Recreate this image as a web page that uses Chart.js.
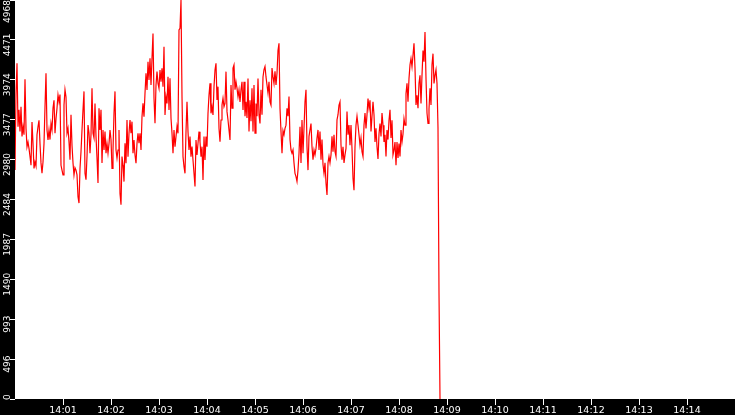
<!DOCTYPE html>
<html>
<head>
<meta charset="utf-8">
<script src="https://cdn.jsdelivr.net/npm/chart.js@4.4.1/dist/chart.umd.min.js"></script>
<style>
  html, body { margin: 0; padding: 0; background: #000; }
  #chart { display: block; }
</style>
</head>
<body>
<canvas id="chart" width="735" height="415"></canvas>
<script>
// x axis: 14:00 .. 14:15, one reading every 1.25 s
const xTickLabels = ['14:00', '14:01', '14:02', '14:03', '14:04', '14:05', '14:06', '14:07',
                     '14:08', '14:09', '14:10', '14:11', '14:12', '14:13', '14:14', '14:15'];
const stepSeconds = 1.25;

// y axis: 0 .. 4968 in ten steps
const yMax = 4968;
const yTickLabels = ['0', '496', '993', '1490', '1987', '2484', '2980', '3477', '3974', '4471', '4968'];

// readings
const readings = [
    2850, 3800, 4180, 3390, 3600, 3330, 3640, 3270, 3390, 3290,
    3980, 3370, 3140, 3200, 3120, 3020, 2910, 3450, 3180, 2870,
    2950, 2900, 3290, 3390, 3470, 3180, 2940, 2810, 2950, 3180,
    3640, 4055, 3350, 3225, 3350, 3230, 3430, 3350, 3620, 3720,
    3310, 3490, 3620, 3785, 3700, 3790, 2910, 2850, 2790, 3660,
    3850, 3760, 3310, 3370, 3200, 2980, 3540, 3160, 2940, 2790,
    2880, 2850, 2790, 2520, 2440, 2870, 3080, 3350, 3600, 3830,
    2810, 2730, 3020, 3410, 3310, 3060, 3290, 3870, 3310, 3250,
    3680, 3270, 3000, 2690, 3620, 3350, 3600, 2940, 3350, 3100,
    3330, 3060, 3180, 3060, 3180, 3350, 3230, 2870, 3100, 3560,
    3830, 3100, 3000, 3100, 3350, 2560, 2420, 3020, 2910,
    2707, 3184, 2935, 3474, 3018, 3308, 3474, 3308, 3453, 3059,
    3225, 3038, 2935, 3184, 3308, 3184, 3308, 3101, 3516, 3681,
    3516, 3806, 4055, 3847, 4200, 3972, 4241, 3910, 4241, 4552,
    3744, 3433, 3910, 4076, 3930, 3868, 4096, 3951, 4117, 3889,
    4387, 3536, 3764, 3681, 4013, 3598, 3993, 3495, 3308, 3059,
    3350, 3142, 3267, 3391, 3308, 4594, 4615, 4968, 3764, 3018,
    2893, 2810, 3329, 3702, 3329, 3101, 3267, 3018, 3142, 2976,
    2810, 2645, 3225, 3038, 3184, 3329, 3204, 3018, 3142, 2728,
    3267, 2976, 3267, 3142, 3557, 3785, 3930, 3557, 3640, 3536,
    3889, 4096, 4180, 3723, 3889, 3370, 3204, 3474, 3660, 3744,
    3640, 3681, 4076, 3578, 3474, 3350, 3225, 3910,
    3620, 4120, 4160, 3850, 3950, 3870, 3765, 3850, 3700, 3850,
    3950, 3600, 3950, 3520, 3700, 3500, 3990, 3330, 3720, 3460,
    3870, 3330, 3910, 3310, 3680, 3520, 3990, 3540, 3430, 3850,
    3540, 4010, 4100, 4140, 4010, 3910, 3810, 3950, 3700, 3660,
    4120, 4010, 3930, 4080, 3910, 4055, 4340, 4430, 3620, 3330,
    3060, 3340, 3290, 3370, 3410, 3620, 3520, 3765, 3230, 3100,
    3060, 3100, 2940, 2810, 2770, 2710, 2850, 3060, 3390, 2940,
    3475, 3060, 3370, 3700, 3850, 3140, 2850, 3270, 3350, 3430,
    3140, 2980, 3100, 3040, 3120, 3250, 3350, 3100, 3330, 2980,
    3230, 2920, 2810, 2940, 2690, 2540, 2940, 3020, 2940, 3040,
    3270, 3080, 3290, 3080, 3020, 3475, 3540, 3660,
    3700, 3163, 2980, 3140, 2940, 3040, 3120, 3580, 3290, 3410,
    3160, 3410, 3120, 2750, 2600, 3140, 3410, 3520, 3410, 3290,
    3160, 3250, 3080, 3020, 3410, 3560, 3370, 3540, 3740, 3620,
    3720, 3330, 3520, 3700, 3540, 3200, 3370, 3140, 2990, 3300,
    3430, 3270, 3560, 3410, 3200, 3290, 3020, 3350, 3230, 3470,
    3600, 3250, 3470, 3040, 3100, 3200, 2910, 3200, 3000, 3180,
    3020, 3350, 3200, 3300, 3490, 3410, 3800, 3930, 3700, 3990,
    4160, 4240, 4140, 4280, 4430, 4120, 3660, 3780, 3620, 3930,
    4030, 3680, 4030, 4340, 4200, 4570, 3990, 3560, 3430, 3610,
    3870, 3660, 4160, 4300, 3930, 4030, 4100, 3930, 3375, 1320,
    0
];

const points = readings.map((v, i) => ({ x: i * stepSeconds, y: v }));
const lastX = (xTickLabels.length - 1) * 60;

// black frame behind the axes, white plot area
const framePlugin = {
    id: 'frame',
    beforeDraw(chart) {
        const { ctx, chartArea: a } = chart;
        ctx.save();
        ctx.fillStyle = '#000';
        ctx.fillRect(0, 0, chart.width, chart.height);
        ctx.fillStyle = '#fff';
        ctx.fillRect(a.left, a.top, a.right - a.left, a.bottom - a.top);
        ctx.restore();
    }
};

// y labels are written bottom-to-top beside the ticks
const yLabelPlugin = {
    id: 'yLabels',
    afterDraw(chart) {
        const { ctx } = chart;
        const scale = chart.scales.y;
        ctx.save();
        ctx.font = "9px 'DejaVu Sans'";
        ctx.fillStyle = '#fff';
        ctx.textAlign = 'center';
        ctx.textBaseline = 'alphabetic';
        yTickLabels.forEach((label, i) => {
            const py = scale.getPixelForValue(i * yMax / 10);
            const half = ctx.measureText(label).width / 2;
            let c = py + 5;
            c = Math.max(c, half);
            c = Math.min(c, chart.chartArea.bottom + 1 - half);
            ctx.save();
            ctx.translate(9.5, c);
            ctx.rotate(-Math.PI / 2);
            ctx.fillText(label, 0, 0);
            ctx.restore();
        });
        ctx.restore();
    }
};

const edgeTick = (c) => (c.tick && (c.tick.value === 0 || c.tick.value === lastX)) ? 'rgba(0,0,0,0)' : '#fff';

new Chart(document.getElementById('chart'), {
    type: 'line',
    data: {
        datasets: [{
            data: points,
            borderColor: '#ff0000',
            borderWidth: 1.2,
            pointRadius: 0,
            tension: 0,
            fill: false
        }]
    },
    options: {
        responsive: false,
        animation: false,
        events: [],
        layout: { padding: 0 },
        plugins: { legend: { display: false }, tooltip: { enabled: false } },
        scales: {
            x: {
                type: 'linear',
                min: 0,
                max: lastX,
                afterBuildTicks: (s) => { s.ticks = xTickLabels.map((l, i) => ({ value: i * 60 })); },
                afterFit: (s) => { s.height = 16; },
                border: { display: false },
                grid: { drawOnChartArea: false, color: edgeTick, tickLength: 6, lineWidth: 1 },
                ticks: {
                    autoSkip: false,
                    maxRotation: 0,
                    padding: 0,
                    color: '#fff',
                    font: { family: 'DejaVu Sans', size: 9.5 },
                    callback: (v, i) => (i === 0 || i === xTickLabels.length - 1) ? '' : xTickLabels[i]
                }
            },
            y: {
                type: 'linear',
                min: 0,
                max: yMax,
                afterBuildTicks: (s) => { s.ticks = yTickLabels.map((l, i) => ({ value: i * yMax / 10 })); },
                afterFit: (s) => { s.width = 15; },
                border: { display: false },
                grid: { drawOnChartArea: false, color: '#fff', tickLength: 5, lineWidth: 1 },
                ticks: { display: false }
            }
        }
    },
    plugins: [framePlugin, yLabelPlugin]
});
</script>
</body>
</html>
